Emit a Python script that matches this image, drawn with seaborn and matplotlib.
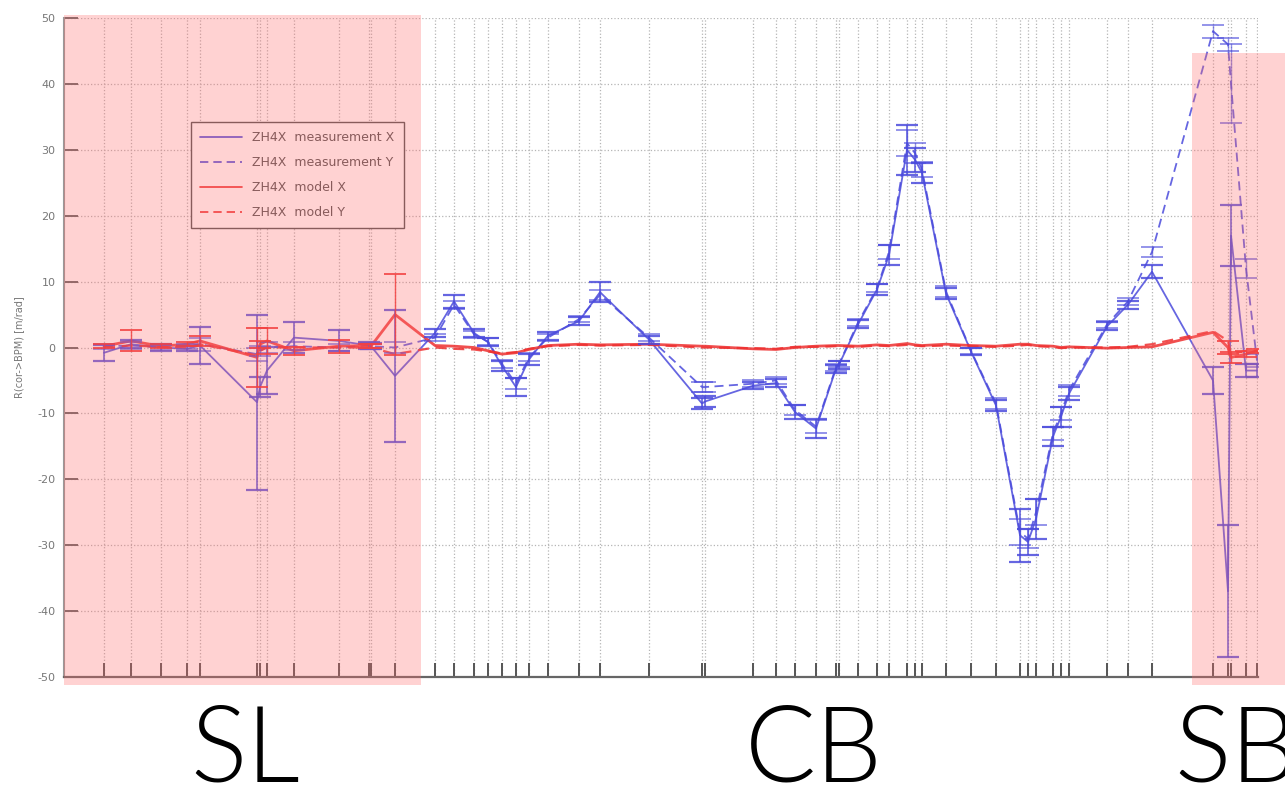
import numpy as np
import pandas as pd
import matplotlib
matplotlib.use("Agg")
import matplotlib.pyplot as plt
from matplotlib.patches import Rectangle
from matplotlib.lines import Line2D
import seaborn as sns

# BPM positions along the line (arbitrary length units)
bpm_s = [40, 67, 97, 123, 136, 193, 196, 203, 230, 275, 305, 307, 331,
         371, 390, 410, 424, 438, 452, 465, 484, 515, 536, 585, 638, 641,
         689, 712, 731, 752, 772, 775, 794, 813, 825, 843, 851, 858, 882,
         907, 932, 956, 964, 972, 989, 997, 1005, 1043, 1064, 1088, 1149,
         1164, 1167, 1182, 1193]

meas_x = [-0.8, 0.5, 0.0, -0.2, 0.3, -8.3, -6.0, -3.5, 1.5, 1.0, 0.3, 0.2, -4.3,
          2.2, 7.0, 2.2, 0.8, -2.8, -6.0, -1.8, 1.8, 4.0, 8.4, 1.2, -8.5, -8.2,
          -5.8, -5.4, -9.8, -12.3, -3.2, -2.6, 3.5, 8.8, 14.0, 30.0, 28.5, 26.5, 8.2,
          -0.6, -8.8, -28.5, -29.5, -26.0, -13.5, -10.5, -7.0, 3.2, 6.5, 11.5, -5.0,
          -37.0, 17.0, -3.5, -3.5]
meas_x_err = [1.2, 0.6, 0.5, 0.4, 2.8, 13.3, 1.5, 3.6, 2.3, 1.6, 0.5, 0.5, 10.0,
              0.6, 1.0, 0.6, 0.6, 0.8, 1.3, 0.8, 0.6, 0.6, 1.5, 0.6, 0.9, 0.8,
              0.5, 0.6, 1.0, 1.5, 0.6, 0.6, 0.6, 0.8, 1.5, 3.8, 1.8, 1.5, 0.8,
              0.6, 0.8, 4.0, 2.0, 3.0, 1.5, 1.5, 1.0, 0.6, 0.6, 1.0, 2.0,
              10.0, 4.6, 1.0, 1.0]

meas_y = [0.2, 0.3, 0.0, 0.2, 0.5, -1.0, -0.5, 0.0, 0.2, 0.0, 0.3, 0.2, 0.0,
          1.5, 6.5, 2.0, 0.9, -2.5, -5.5, -1.5, 1.5, 4.3, 8.0, 1.5, -6.0, -6.0,
          -5.5, -5.0, -9.5, -12.0, -3.0, -2.5, 3.8, 9.0, 14.5, 31.0, 29.5, 27.0, 8.5,
          -0.5, -8.5, -28.0, -29.0, -25.0, -13.0, -10.0, -6.5, 3.5, 7.0, 14.5, 48.0,
          46.0, 40.0, 12.0, -2.0]
meas_y_err = [0.4, 0.5, 0.4, 0.4, 1.0, 1.0, 0.8, 0.8, 0.6, 0.6, 0.4, 0.4, 0.8,
              0.5, 0.6, 0.5, 0.5, 0.6, 0.8, 0.6, 0.5, 0.5, 0.8, 0.5, 0.8, 0.8,
              0.5, 0.5, 0.8, 1.0, 0.5, 0.5, 0.5, 0.6, 1.0, 2.0, 1.5, 1.2, 0.8,
              0.5, 0.8, 2.0, 1.5, 2.0, 1.0, 1.0, 0.8, 0.5, 0.5, 0.8, 1.0,
              1.0, 6.0, 1.5, 1.0]

model_x = [0.2, 1.0, 0.2, 0.5, 1.0, -1.5, 0.5, 1.0, -0.5, 0.2, 0.3, 0.2, 5.0,
           0.3, 0.2, 0.0, -0.5, -1.0, -0.8, -0.3, 0.3, 0.5, 0.4, 0.5, 0.2, 0.2,
           -0.2, -0.3, 0.0, 0.2, 0.3, 0.3, 0.2, 0.4, 0.3, 0.6, 0.4, 0.3, 0.5,
           0.3, 0.2, 0.5, 0.5, 0.3, 0.2, 0.0, 0.1, -0.1, 0.0, 0.1, 2.3,
           0.0, -1.5, -1.0, -0.5]
model_x_err = [0.3, 1.6, 0.3, 0.3, 0.8, 4.5, 0.5, 2.0, 0.6, 1.0, 0.3, 0.3, 6.2,
               0, 0, 0, 0, 0, 0, 0, 0, 0, 0, 0, 0, 0,
               0, 0, 0, 0, 0, 0, 0, 0, 0, 0, 0, 0, 0,
               0, 0, 0, 0, 0, 0, 0, 0, 0, 0, 0, 0,
               1.0, 0.8, 0.5, 0.3]
model_y = [0.0, 0.3, 0.1, 0.0, 0.5, -1.2, -0.5, 0.0, 0.0, 0.0, 0.0, 0.0, -1.0,
           0.0, -0.2, -0.3, -0.6, -0.9, -0.7, -0.2, 0.2, 0.4, 0.3, 0.4, 0.0, 0.0,
           -0.1, -0.2, 0.1, 0.1, 0.2, 0.2, 0.1, 0.3, 0.2, 0.4, 0.3, 0.2, 0.3,
           0.2, 0.1, 0.3, 0.4, 0.2, 0.1, -0.1, 0.0, 0.0, 0.1, 0.5, 2.5,
           1.0, -1.0, -0.5, -0.5]

y_ticks = [-50, -40, -30, -20, -10, 0, 10, 20, 30, 40, 50]
series_labels = ["ZH4X  measurement X", "ZH4X  measurement Y",
                 "ZH4X  model X", "ZH4X  model Y"]
regions = ["SL", "CB", "SB"]

BLUE = "#4b4bdc"
RED = "#ee3030"

sns.set_theme(style="white")
plt.rcParams["font.family"] = ["DejaVu Sans"]

df = pd.DataFrame({
    "s": bpm_s * 4,
    "R": meas_x + meas_y + model_x + model_y,
    "series": sum([[lab] * len(bpm_s) for lab in series_labels], []),
})

fig = plt.figure(figsize=(12.85, 7.89), dpi=100)
ax = fig.add_axes([64 / 1285, 1 - 677 / 789, (1258 - 64) / 1285, (677 - 18) / 789])

palette = {series_labels[0]: BLUE, series_labels[1]: BLUE,
           series_labels[2]: RED, series_labels[3]: RED}
dashes = {series_labels[0]: "", series_labels[1]: (5, 3),
          series_labels[2]: "", series_labels[3]: (5, 3)}
sizes = {series_labels[0]: 1.3, series_labels[1]: 1.3,
         series_labels[2]: 2.0, series_labels[3]: 1.6}
sns.lineplot(data=df, x="s", y="R", hue="series", style="series",
             size="series", sizes=sizes,
             palette=palette, dashes=dashes, sort=False, estimator=None,
             alpha=0.85, legend=False, ax=ax)

# error bars at each BPM
ax.errorbar(bpm_s, meas_x, yerr=meas_x_err, fmt="none", ecolor=BLUE,
            elinewidth=1.2, capsize=8, capthick=1.6, alpha=0.85)
ax.errorbar(bpm_s, meas_y, yerr=meas_y_err, fmt="none", ecolor=BLUE,
            elinewidth=1.0, capsize=8, capthick=1.4, alpha=0.6)
mx_err = np.array(model_x_err)
sel = mx_err > 0
ax.errorbar(np.array(bpm_s)[sel], np.array(model_x)[sel], yerr=mx_err[sel],
            fmt="none", ecolor=RED, elinewidth=1.0, capsize=8, capthick=1.4,
            alpha=0.85)

ax.set_xlim(0, 1194)
ax.set_ylim(-50, 50)
ax.set_xticks(bpm_s)
ax.set_xticklabels([])
ax.set_yticks(y_ticks)
ax.set_yticklabels([str(v) for v in y_ticks], fontsize=8, color="#777777")
ax.tick_params(axis="x", direction="in", length=10, width=1.4, color="#555555",
               bottom=True)
ax.tick_params(axis="y", direction="in", length=10, width=1.4, color="#666666",
               left=True, pad=6)
ax.grid(True, linestyle=":", color="#b5b5b5", linewidth=0.9)
for side in ("top", "right"):
    ax.spines[side].set_visible(False)
ax.spines["left"].set_color("#999999")
ax.spines["left"].set_linewidth(1.5)
ax.spines["bottom"].set_color("#666666")
ax.spines["bottom"].set_linewidth(1.6)
ax.set_xlabel("")
ax.set_ylabel("R(cor->BPM) [m/rad]", fontsize=7, color="#777777", labelpad=10)

handles = [Line2D([], [], color=BLUE, lw=1.2),
           Line2D([], [], color=BLUE, lw=1.2, dashes=(5, 3)),
           Line2D([], [], color=RED, lw=1.2),
           Line2D([], [], color=RED, lw=1.2, dashes=(5, 3))]
leg = ax.legend(handles, series_labels, loc="upper left",
                bbox_to_anchor=(0.106, 0.842), fontsize=9, frameon=True,
                fancybox=False, edgecolor="#555555", framealpha=1,
                handlelength=3.4, handletextpad=0.8, borderpad=0.75,
                labelspacing=0.95, borderaxespad=0)
leg.get_frame().set_linewidth(1.0)
for t in leg.get_texts():
    t.set_color("#555555")

# shaded sections of the ring
for x0, y0, w, h in [(64, 15, 357, 670), (1192, 53, 93, 632)]:
    fig.add_artist(Rectangle((x0 / 1285, 1 - (y0 + h) / 789), w / 1285, h / 789,
                             transform=fig.transFigure, facecolor="#ff6a6a",
                             alpha=0.3, edgecolor="none", zorder=5))

for label, xc in zip(regions, [245, 814, 1236]):
    fig.text(xc / 1285, 8 / 789, label, ha="center", va="baseline",
             fontsize=76, family="Lato", fontweight=300, color="black")

fig.savefig("out.png", dpi=100)
